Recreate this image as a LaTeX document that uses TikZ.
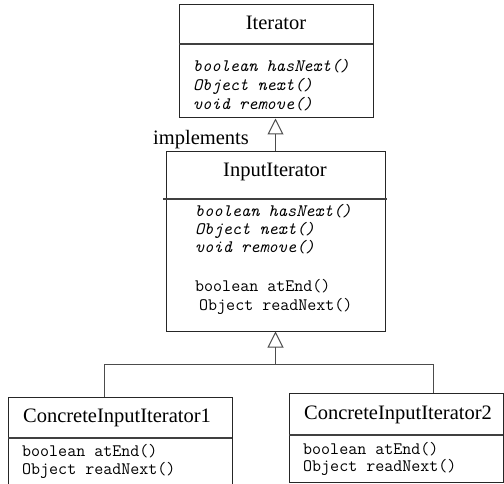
\documentclass[tikz,border=0pt]{standalone}
\usepackage{fontspec}
\setmainfont{Liberation Serif}
\usetikzlibrary{arrows.meta}
\tikzset{
  classbox/.style={draw=black!85, line width=1pt, inner sep=0pt},
  divider/.style={draw=black!75, line width=1.2pt},
  classname/.style={font=\fontsize{20.5}{20.5}\selectfont, anchor=base, inner sep=0pt},
  method/.style={font=\ttfamily\fontsize{17.5}{17.5}\selectfont, anchor=base west, inner sep=0pt},
  abstract/.style={method, font=\ttfamily\itshape\fontsize{17.5}{17.5}\selectfont},
  inherit/.style={draw=black!70, line width=1pt, -{Triangle[open, length=16pt, width=16pt]}},
  link/.style={draw=black!70, line width=1pt}
}
\begin{document}
\begin{tikzpicture}[x=1pt, y=-1pt]
\useasboundingbox (0,0) rectangle (504,484);
% class boxes
\node[classbox, minimum width=194pt, minimum height=113pt] (iter) at (276,61.5) {};
\node[classbox, minimum width=219pt, minimum height=179pt] (input) at (275.5,241.5) {};
\node[classbox, minimum width=224pt, minimum height=92pt] (conc1) at (120,443) {};
\node[classbox, minimum width=214pt, minimum height=89pt] (conc2) at (396,437.5) {};
% dividers
\draw[divider] (179,44) -- (373,44);
\draw[divider] (163,199) -- (387,199);
\draw[divider] (8,438) -- (232,438);
\draw[divider] (289,435) -- (503,435);
% names
\node[classname] (iterName) at (276,30) {Iterator};
\node[classname] (inputName) at (275,177) {InputIterator};
\node[classname] (conc1Name) at (117,422) {ConcreteInputIterator1};
\node[classname] (conc2Name) at (398,419) {ConcreteInputIterator2};
\node[classname] (impl) at (201,145) {implements};
% methods
\foreach \m/\y [count=\i] in {boolean hasNext()/72, Object next()/91, void remove()/110}
{
	\node[abstract] (iterM\i) at (193,\y) {\m};
}
\foreach \m/\y [count=\i] in {boolean hasNext()/217, Object next()/235, void remove()/253}
{
	\node[abstract] (inputM\i) at (195,\y) {\m};
}
\node[method] (inputEnd) at (195,291) {boolean atEnd()};
\node[method] (inputRead) at (199,310) {Object readNext()};
\foreach \m/\y [count=\i] in {boolean atEnd()/456, Object readNext()/474}
{
	\node[method] (conc1M\i) at (22,\y) {\m};
}
\foreach \m/\y [count=\i] in {boolean atEnd()/454, Object readNext()/471}
{
	\node[method] (conc2M\i) at (303,\y) {\m};
}
% inheritance
\draw[inherit] (input.north) -- (input.north |- iter.south);
\coordinate (fork) at ([yshift=-33pt]input.south);
\draw[inherit] (fork) -- (input.south);
\draw[link] ([xshift=-16pt]conc1.north) |- (fork) -| ([xshift=37pt]conc2.north);
\end{tikzpicture}
\end{document}
